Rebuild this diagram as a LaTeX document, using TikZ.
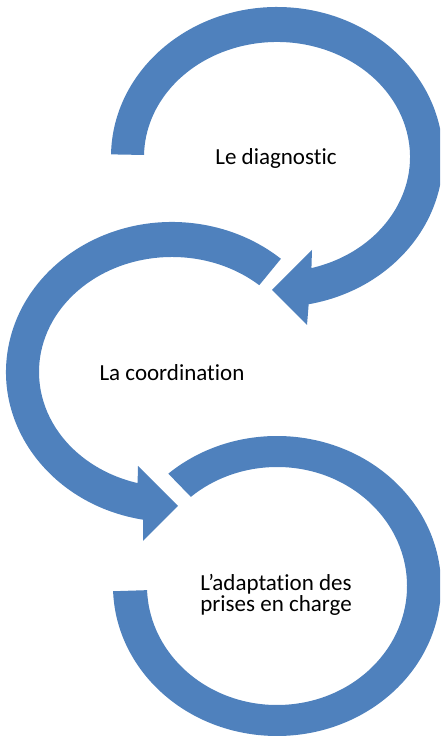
\documentclass[tikz,border=0pt]{standalone}
\usepackage{fontspec}
\setmainfont{Carlito}[Ligatures=NoCommon]
\usepackage{tikz}
\usetikzlibrary{calc}
\definecolor{smartblue}{RGB}{79,129,189}

\begin{document}
\begin{tikzpicture}[x=1pt,y=1pt,
    bluearc/.style={fill=smartblue,draw=none},
    steplabel/.style={font=\fontsize{23}{21}\selectfont,align=center,inner sep=0pt}]

    \useasboundingbox (0,0) rectangle (440,738);
    \clip (0,0) rectangle (440,738);

    \coordinate (c1) at (277,581);
    \coordinate (c2) at (172,366);
    \coordinate (c3) at (277,152);

    \fill[bluearc] ($(c1)+(179:166 and 150)$) arc[start angle=179,end angle=-79,x radius=166pt,y radius=150pt]
        -- (307,413) -- (272,448) -- (312,488)
        -- ($(c1)+(-75:133 and 115)$) arc[start angle=-75,end angle=179,x radius=133pt,y radius=115pt] -- cycle;

    \fill[bluearc] ($(c2)+(49:133 and 115)$) arc[start angle=49,end angle=255,x radius=133pt,y radius=115pt]
        -- (138,272) -- (178,232) -- (143,197)
        -- ($(c2)+(260:166 and 150)$) arc[start angle=260,end angle=49,x radius=166pt,y radius=150pt] -- cycle;

    \fill[bluearc] ($(c3)+(131.5:164 and 150)$) arc[start angle=131.5,end angle=-178,x radius=164pt,y radius=150pt]
        -- ($(c3)+(-178:130 and 119)$) arc[start angle=-178,end angle=131.5,x radius=130pt,y radius=119pt] -- cycle;

    \node[steplabel,anchor=base] (diag) at (276,573) {Le diagnostic};
    \node[steplabel,anchor=base] (coord) at (172,357) {La coordination};
    \node[steplabel,anchor=base] (adapt) at (276,126) {L’adaptation des\\prises en charge};
\end{tikzpicture}
\end{document}
